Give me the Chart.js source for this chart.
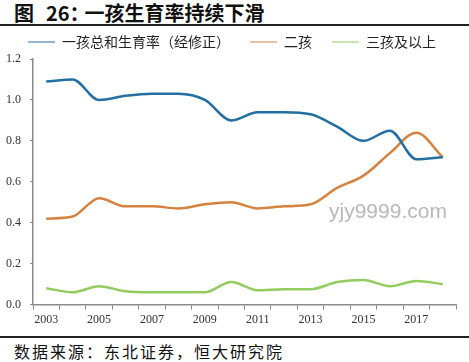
<!DOCTYPE html>
<html>
<head>
<meta charset="utf-8">
<script src="https://cdn.jsdelivr.net/npm/chart.js@4.4.1/dist/chart.umd.min.js"></script>
<style>
  html, body { margin: 0; padding: 0; background: #fff; }
  body { width: 469px; height: 362px; position: relative; overflow: hidden; }
  #title { position: absolute; left: 14px; top: -2px; font: bold 20px "Noto Sans CJK SC", sans-serif; color: #111; white-space: nowrap; }
  #title .n { margin-left: 12px; margin-right: -5px; }
  #rule1 { position: absolute; left: 0; top: 24px; width: 469px; height: 2px; background: #222; }
  #rule2 { position: absolute; left: 0; top: 336px; width: 469px; height: 2px; background: #222; }
  #source { position: absolute; left: 14px; top: 339px; font: 16px "Noto Sans CJK SC", sans-serif; color: #111; letter-spacing: 2px; white-space: nowrap; }
  #wm { position: absolute; left: 329px; top: 199px; font: 21px "Liberation Sans", sans-serif; color: #b8b8b8; }
  #box { position: absolute; left: 0; top: 15px; width: 469px; height: 319px; }
</style>
</head>
<body>
<div id="title">图<span class="n">26：</span>一孩生育率持续下滑</div>
<div id="rule1"></div>
<div id="box"><canvas id="myChart"></canvas></div>
<div id="wm">yjy9999.com</div>
<div id="rule2"></div>
<div id="source">数据来源：东北证券，恒大研究院</div>
<script>
const years = ['2003', '2004', '2005', '2006', '2007', '2008', '2009', '2010',
    '2011', '2012', '2013', '2014', '2015', '2016', '2017', '2018'];
const firstChild = [1.09, 1.10, 1.00, 1.02, 1.03, 1.03, 1.00, 0.90,
    0.94, 0.94, 0.93, 0.87, 0.80, 0.85, 0.71, 0.72];
const secondChild = [0.42, 0.43, 0.52, 0.48, 0.48, 0.47, 0.49, 0.50,
    0.47, 0.48, 0.49, 0.57, 0.63, 0.74, 0.84, 0.72];
const thirdPlus = [0.08, 0.06, 0.09, 0.065, 0.06, 0.06, 0.06, 0.11,
    0.07, 0.075, 0.075, 0.11, 0.12, 0.09, 0.115, 0.10];
const yTicks = [0, 0.2, 0.4, 0.6, 0.8, 1.0, 1.2];

const axisColor = '#8a8a8a';
const tickFont = { family: '"Liberation Serif", serif', size: 12 };

const ctx = document.getElementById('myChart');

new Chart(ctx, {
    type: 'line',
    data: {
        labels: years,
        datasets: [{
            label: '一孩总和生育率（经修正）',
            data: firstChild,
            borderColor: '#236fa1',
            backgroundColor: '#236fa1',
        }, {
            label: '二孩',
            data: secondChild,
            borderColor: '#d5823e',
            backgroundColor: '#d5823e',
        }, {
            label: '三孩及以上',
            data: thirdPlus,
            borderColor: '#92cc5e',
            backgroundColor: '#92cc5e',
        }],
    },
    options: {
        responsive: true,
        maintainAspectRatio: false,
        animation: false,
        layout: { padding: { left: 0, right: 13, top: 0, bottom: 4 } },
        elements: {
            line: { borderWidth: 2.5, tension: 0.4, cubicInterpolationMode: 'monotone' },
            point: { radius: 0 },
        },
        plugins: {
            legend: {
                position: 'top',
                align: 'end',
                labels: {
                    font: { family: '"Noto Sans CJK SC", serif', size: 14 },
                    color: '#222',
                    usePointStyle: true,
                    pointStyle: 'line',
                    pointStyleWidth: 27,
                    boxHeight: 3,
                    padding: 20,
                },
            },
            tooltip: { enabled: false },
        },
        scales: {
            x: {
                offset: true,
                border: { color: axisColor, width: 1.5 },
                grid: { drawOnChartArea: false, drawTicks: true, tickLength: 5, offset: true, color: axisColor },
                ticks: {
                    autoSkip: false,
                    maxRotation: 0,
                    color: '#333',
                    font: tickFont,
                    padding: 3,
                    callback: (v, i) => (i % 2 === 0 ? years[i] : ''),
                },
            },
            y: {
                min: 0,
                max: 1.2,
                afterFit: (s) => { s.width = 33; },
                afterBuildTicks: (s) => { s.ticks = yTicks.map(v => ({ value: v })); },
                border: { color: axisColor, width: 1.5 },
                grid: { drawOnChartArea: false, drawTicks: true, tickLength: 3, color: axisColor },
                ticks: {
                    color: '#333',
                    font: tickFont,
                    padding: 9,
                    callback: (v) => v.toFixed(1),
                },
            },
        },
    },
});
</script>
</body>
</html>
